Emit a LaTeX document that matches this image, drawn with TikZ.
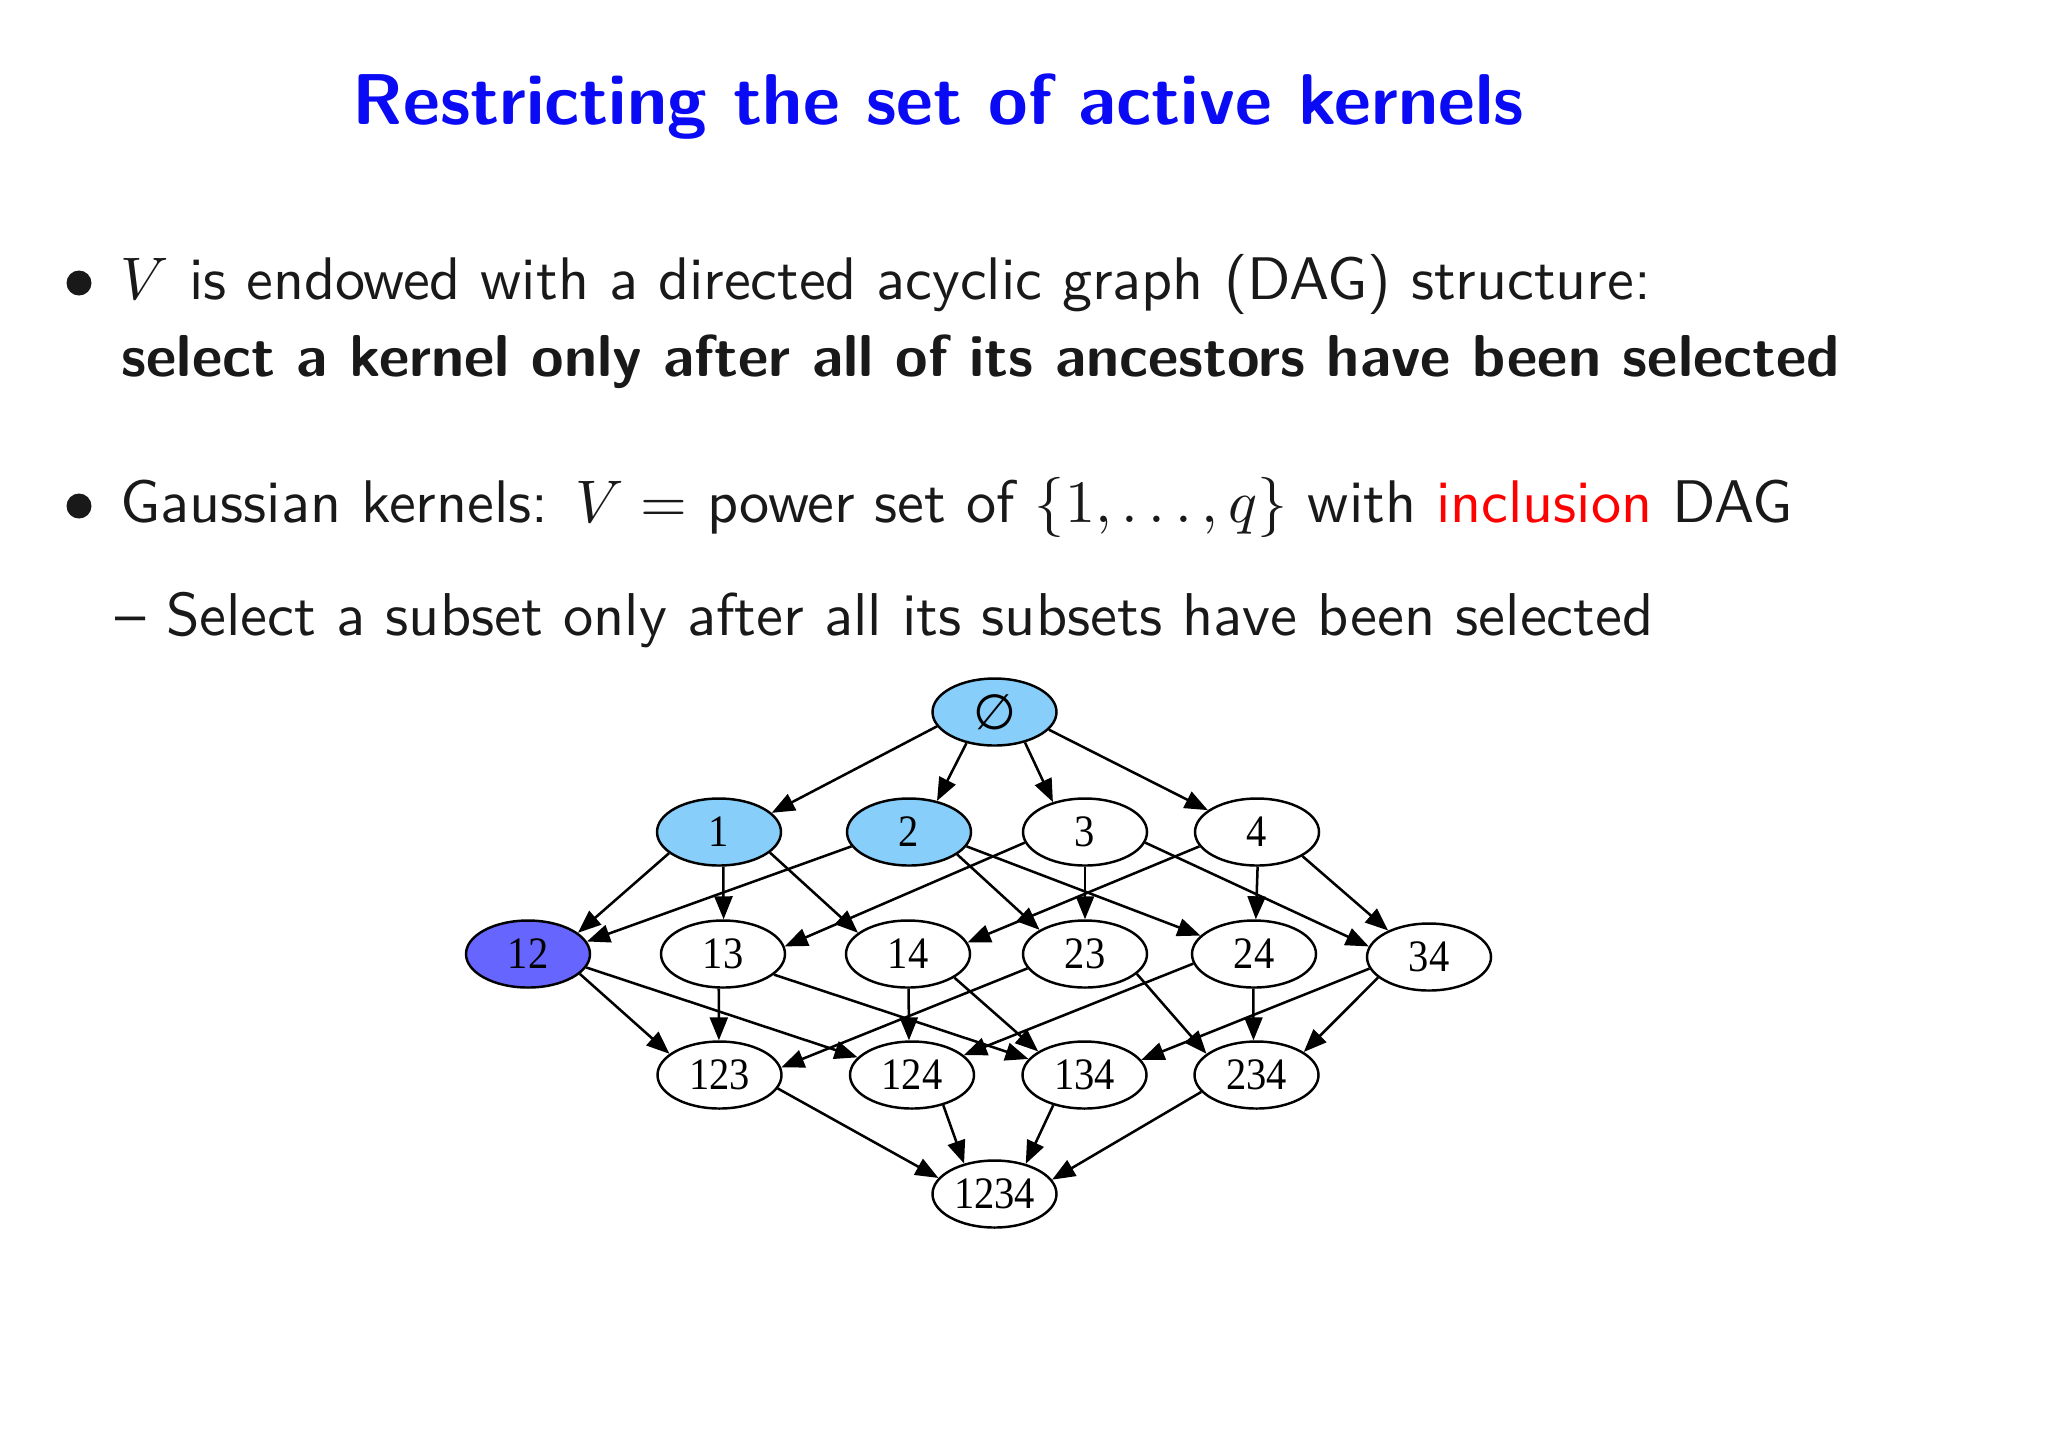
\documentclass[tikz,border=0pt]{standalone}
\usepackage{fontspec}
\usepackage{graphicx}
\usetikzlibrary{shapes.geometric,arrows.meta}
\renewcommand{\familydefault}{\sfdefault}
\newfontfamily\gvfont[FakeStretch=0.9]{Liberation Serif}
\newfontfamily\symfont{DejaVu Sans}
\definecolor{lblue}{RGB}{135,206,250}
\definecolor{dblue}{RGB}{102,102,255}
\definecolor{txt}{RGB}{25,25,25}
\definecolor{ttl}{RGB}{10,10,245}
\begin{document}
\begin{tikzpicture}[x=0.1mm,y=-0.1mm,
  kern/.style={ellipse,draw,line width=0.7pt,minimum width=12.4mm,minimum height=6.7mm,inner sep=0pt,font=\gvfont\fontsize{12.8}{13}\selectfont},
  edge/.style={-{Triangle[length=2.3mm,width=1.8mm]},line width=0.72pt},
  txtline/.style={anchor=base west,inner sep=0pt,text=txt},
  bul/.style={circle,fill=txt,minimum size=2.5mm,inner sep=0pt}]
\useasboundingbox[fill=white] (0,0) rectangle (2048,1447);
% title
\node[anchor=base west,inner sep=0pt,text=ttl] (title) at (352,124) {\resizebox{117.1mm}{!}{\bfseries Restricting the set of active kernels}};
% bullets and text
\node[bul] (b1) at (79,283) {};
\node[txtline] (l1) at (120,299) {\resizebox{153.0mm}{!}{$V$ is endowed with a directed acyclic graph (DAG) structure:}};
\node[txtline] (l2) at (121,376) {\resizebox{171.8mm}{!}{\bfseries select a kernel only after all of its ancestors have been selected}};
\node[bul] (b2) at (79,506) {};
\node[txtline] (l3) at (120,522) {\resizebox{167.2mm}{!}{Gaussian kernels: $V=$ power set of $\{1,\ldots,q\}$ with \textcolor{red}{inclusion} DAG}};
\node[txtline] (l4) at (115,635) {\resizebox{153.8mm}{!}{\textendash\ Select a subset only after all its subsets have been selected}};
% graph nodes
\node[kern,fill=lblue] (e) at (994.5,712) {\symfont\fontsize{14}{14}\selectfont ∅};
\node[kern,fill=lblue] (n1) at (719,832) {\raisebox{-0.7mm}{1}};
\node[kern,fill=lblue] (n2) at (909,832) {2};
\node[kern] (n3) at (1085,832) {3};
\node[kern] (n4) at (1257,832) {4};
\node[kern,fill=dblue] (n12) at (528,954) {12};
\node[kern] (n13) at (723,954) {13};
\node[kern] (n14) at (908,954) {14};
\node[kern] (n23) at (1085,954) {23};
\node[kern] (n24) at (1254,954) {24};
\node[kern] (n34) at (1429,957) {\raisebox{-0.3mm}{34}};
\node[kern] (n123) at (719.5,1075) {123};
\node[kern] (n124) at (912,1075) {124};
\node[kern] (n134) at (1084.5,1075) {134};
\node[kern] (n234) at (1256.5,1075) {234};
\node[kern] (n1234) at (994.5,1194) {1234};
% edges (source/exit angle/target/entry angle)
\foreach \a/\sa/\b/\ta in {e/194/n1/20, e/228/n2/48, e/315/n3/137, e/342/n4/156,
  n1/203/n12/23, n1/277/n13/89, n1/338/n14/157,
  n2/194/n12/12, n2/335/n23/152, n2/346/n24/161,
  n3/190/n13/7, n3/270/n23/90, n3/350/n34/170,
  n4/194/n14/11, n4/271/n24/87, n4/332/n34/147,
  n12/339/n123/157, n12/347/n124/162,
  n13/263/n123/91, n13/338/n134/164,
  n14/271/n124/95, n14/333/n134/153,
  n23/194/n123/7, n23/339/n234/157,
  n24/189/n124/21, n24/269/n234/95,
  n34/191/n134/15, n34/202/n234/26,
  n123/347/n1234/164, n124/316/n1234/135, n134/224/n1234/44, n234/197/n1234/14}
  \draw[edge] (\a.\sa) -- (\b.\ta);
\end{tikzpicture}
\end{document}
